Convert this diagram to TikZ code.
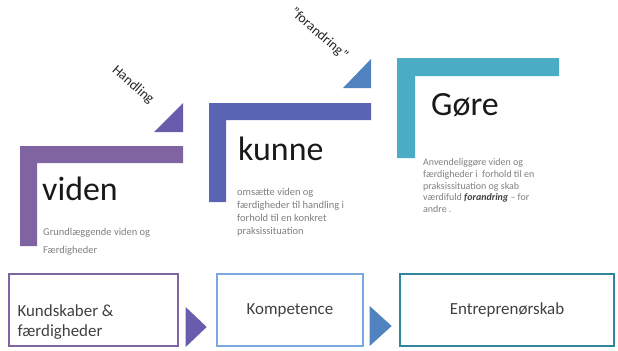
\documentclass[tikz,border=0pt]{standalone}
\usepackage{fontspec}
\setmainfont{Carlito}
\usetikzlibrary{calc,positioning}

\definecolor{lilla}{HTML}{8064A2}
\definecolor{lillamoerk}{HTML}{6A5CAD}
\definecolor{indigo}{HTML}{5A64B5}
\definecolor{staalblaa}{HTML}{4F82BE}
\definecolor{aqua}{HTML}{4BACC6}
\definecolor{lyseblaa}{HTML}{7AA8E0}
\definecolor{petrol}{HTML}{31859C}
\definecolor{graatekst}{HTML}{7F7F7F}
\definecolor{moerktekst}{HTML}{404040}

\tikzset{
  ordstor/.style={anchor=base west, inner sep=0pt, font=\fontsize{34}{34}\selectfont, text=black!90},
  undertekst/.style={anchor=north west, inner sep=0pt, align=left, text=graatekst},
  skraatekst/.style={font=\fontsize{14}{14}\selectfont, text=black!85, rotate=-41},
  boks/.style={draw, line width=1.3bp, minimum height=72bp, inner sep=0pt},
  bokstekst/.style={font=\fontsize{17}{20}\selectfont, text=moerktekst, align=left, inner sep=0pt}
}

\begin{document}
\begin{tikzpicture}[x=1bp,y=-1bp]
\useasboundingbox (0,0) rectangle (618,350);

% viden
\fill[lilla] (20,146) -- (183,146) -- (183,163) -- (37,163) -- (37,246) -- (20,246) -- cycle;
\fill[lillamoerk] (154,132) -- (183,103) -- (183,132) -- cycle;
\node[skraatekst] (handling) at (133,85) {Handling};
\node[ordstor] (viden) at (42,200) {viden};
\node[undertekst, font=\fontsize{10.5}{18}\selectfont] (vidensub) at (43,228) {Grundlæggende viden og\\Færdigheder};

% kunne
\fill[indigo] (209,103) -- (371,103) -- (371,120) -- (226,120) -- (226,202) -- (209,202) -- cycle;
\fill[staalblaa] (343,88) -- (371,59) -- (371,88) -- cycle;
\node[skraatekst] (forandring) at (319,34) {”forandring”};
\node[ordstor] (kunne) at (238,160) {kunne};
\node[undertekst, font=\fontsize{10.5}{13}\selectfont] (kunnesub) at (237,188) {omsætte viden og\\færdigheder til handling i\\forhold til en konkret\\praksissituation};

% gøre
\fill[aqua] (397,58) -- (559,58) -- (559,76) -- (415,76) -- (415,158) -- (397,158) -- cycle;
\node[ordstor] (goere) at (431,115) {Gøre};
\node[undertekst, font=\fontsize{10}{12}\selectfont] (goeresub) at (423,158) {Anvendeliggøre viden og\\færdigheder i\ \ forhold til en\\praksissituation og skab\\værdifuld \textcolor{moerktekst}{\textbf{\textit{forandring}}} – for\\andre .};

% nederste raekke
\node[boks, draw=lilla, minimum width=169bp] (kund) at (93.5,310) {};
\node[boks, draw=lyseblaa, minimum width=146bp] (komp) at (290,310) {};
\node[boks, draw=petrol, minimum width=214bp] (entr) at (507,310) {};

\node[bokstekst, anchor=west] (kundtekst) at ($(kund.west)+(9,12)$) {Kundskaber \&\\færdigheder};
\node[bokstekst] (komptekst) at (komp.center) {Kompetence};
\node[bokstekst] (entrtekst) at (entr.center) {Entreprenørskab};

\fill[lillamoerk] ($(kund.east)+(7,-3)$) -- ($(kund.east)+(7,37)$) -- ($(kund.east)+(28,17)$) -- cycle;
\fill[staalblaa] ($(komp.east)+(6,-4)$) -- ($(komp.east)+(6,36)$) -- ($(komp.east)+(28,16)$) -- cycle;
\end{tikzpicture}
\end{document}
